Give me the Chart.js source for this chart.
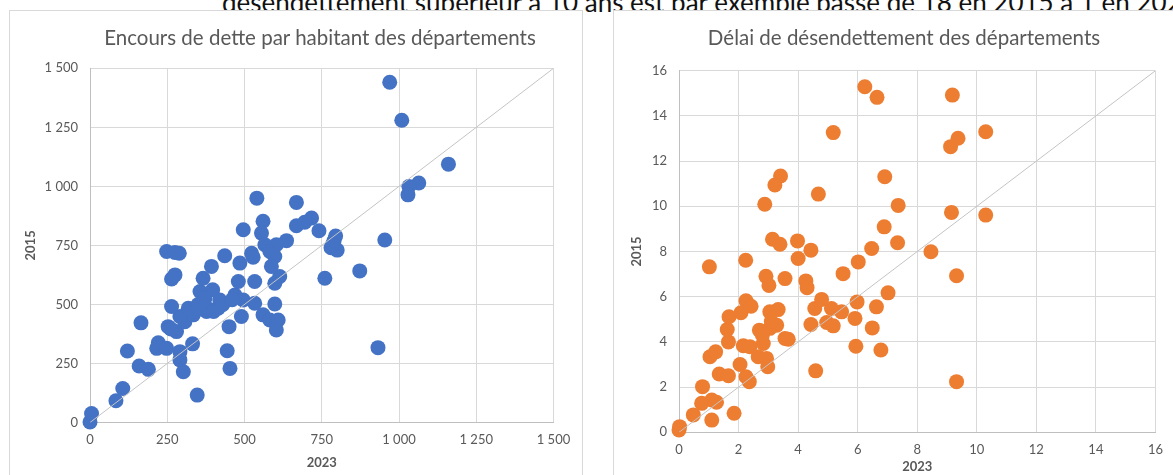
<!DOCTYPE html>
<html lang="fr">
<head>
<meta charset="UTF-8">
<title>Encours de dette et délai de désendettement des départements</title>
<script src="https://cdn.jsdelivr.net/npm/chart.js"></script>
<style>
    body {
        margin: 0;
        width: 1173px;
        height: 475px;
        overflow: hidden;
        position: relative;
        background: #fff;
        font-family: 'Lato', sans-serif;
    }
    .intro {
        position: absolute;
        left: 222px;
        top: -13px;
        font-size: 26px;
        line-height: 30px;
        color: #111;
        white-space: nowrap;
    }
    .card {
        position: absolute;
        top: 10px;
        height: 480px;
        border: 1px solid #d9d9d9;
        background: #fff;
    }
    .card h2 {
        position: absolute;
        top: 15px;
        margin: 0;
        font-size: 20.5px;
        line-height: 22px;
        font-weight: 400;
        color: #595959;
        white-space: nowrap;
        transform: translateX(-50%);
        z-index: 2;
    }
    .card canvas { position: absolute; left: 0; top: 0; }
</style>
</head>
<body>

<div class="intro">désendettement supérieur à 10 ans est par exemple passé de 18 en 2015 à 1 en 2023.</div>

<div class="card" style="left:9px; width:572px;">
    <h2 style="left:310px;">Encours de dette par habitant des départements</h2>
    <canvas id="debtChart" width="572" height="464"></canvas>
</div>

<div class="card" style="left:613px; width:600px;">
    <h2 style="left:290px;">Délai de désendettement des départements</h2>
    <canvas id="delayChart" width="559" height="464"></canvas>
</div>

<script>
    // encours de dette par habitant (EUR), 2023 en abscisse, 2015 en ordonnee
    const debt2023 = [0, 5, 84, 106, 121, 159, 189, 165, 216, 221, 248, 253, 280, 262,
        291, 291, 302, 332, 307, 291, 334, 264, 318, 366, 415, 377, 356, 397, 372, 420,
        469, 496, 533, 598, 264, 275, 366, 480, 533, 598, 614, 393, 485, 436, 523, 528,
        248, 275, 289, 540, 668, 560, 496, 555, 668, 717, 695, 741, 636, 603, 566, 582,
        598, 587, 490, 560, 582, 609, 603, 450, 444, 453, 347, 760, 873, 932, 954, 780,
        790, 795, 800, 785, 970, 1009, 1160, 1064, 1032, 1029, 340, 430, 385, 400, 460, 350];
    const debt2015 = [2, 38, 92, 144, 303, 239, 225, 422, 314, 338, 314, 406, 385, 396,
        300, 265, 215, 333, 427, 449, 456, 491, 484, 491, 484, 470, 555, 562, 526, 519,
        540, 519, 505, 502, 608, 625, 611, 597, 597, 590, 618, 661, 675, 706, 717, 700,
        724, 720, 717, 950, 932, 852, 816, 802, 833, 866, 848, 812, 770, 753, 753, 724,
        703, 661, 449, 456, 434, 434, 392, 406, 304, 229, 116, 611, 642, 317, 773, 740,
        770, 790, 730, 755, 1441, 1280, 1094, 1014, 999, 964, 470, 500, 480, 470, 520, 500];

    // delai de desendettement (annees)
    const delay2023 = [0, 0.02, 0.48, 1.10, 1.85, 0.76, 1.10, 1.26, 0.79, 1.35, 1.66, 2.05,
        2.25, 2.36, 1.04, 1.23, 1.66, 1.62, 1.68, 2.16, 2.38, 2.08, 2.25, 2.42, 2.70, 2.83,
        2.66, 2.94, 2.98, 3.05, 3.33, 3.28, 3.56, 3.05, 2.92, 3.02, 3.56, 3.14, 3.39, 3.98,
        4.00, 4.43, 4.26, 4.30, 2.88, 1.02, 2.24, 4.56, 4.79, 5.12, 5.46, 4.43, 4.96, 5.18,
        4.59, 5.51, 6.02, 6.47, 6.89, 7.36, 7.34, 7.02, 5.98, 6.63, 5.91, 6.49, 5.94, 6.78,
        6.24, 6.65, 5.18, 3.41, 3.22, 4.68, 6.91, 9.18, 10.30, 9.37, 9.12, 9.15, 10.30, 8.46,
        9.32, 9.32, 3.67, 3.10, 2.80];
    const delay2015 = [0.10, 0.25, 0.77, 0.54, 0.84, 1.28, 1.43, 1.33, 2.02, 2.58, 2.50, 3.00,
        2.46, 2.24, 3.34, 3.56, 4.00, 4.55, 5.11, 3.83, 3.79, 5.29, 5.82, 5.58, 4.52, 3.93,
        3.34, 3.27, 2.90, 5.33, 5.43, 4.74, 4.15, 4.60, 6.90, 6.50, 6.80, 8.54, 8.32, 8.47,
        7.69, 8.06, 6.70, 6.40, 10.09, 7.32, 7.61, 5.48, 5.88, 5.48, 5.33, 4.77, 4.86, 4.71,
        2.72, 7.02, 7.54, 8.13, 9.09, 10.04, 8.39, 6.17, 5.77, 5.55, 5.04, 4.62, 3.81, 3.64,
        15.29, 14.82, 13.26, 11.34, 10.94, 10.54, 11.31, 14.92, 13.30, 13.01, 12.64, 9.73, 9.61, 7.99,
        6.93, 2.24, 4.12, 4.90, 4.30];

    const debtTicks = ['0', '250', '500', '750', '1 000', '1 250', '1 500'];
    const delayTicks = ['0', '2', '4', '6', '8', '10', '12', '14', '16'];

    Chart.defaults.font.family = 'Lato';
    Chart.defaults.font.size = 13;
    Chart.defaults.color = '#595959';

    function scatterChart(id, xs, ys, color, ticks, step, box) {
        const max = (ticks.length - 1) * step;
        const axisTitle = (text, pad) => ({
            display: true, text: text, color: '#595959',
            font: { size: 13, weight: 'bold' }, padding: pad
        });
        const grid = { color: '#d9d9d9', drawTicks: false };
        const border = { color: '#bfbfbf' };
        return new Chart(document.getElementById(id), {
            type: 'scatter',
            data: {
                datasets: [
                    {
                        data: xs.map((x, i) => ({ x: x, y: ys[i] })),
                        backgroundColor: color,
                        borderWidth: 0,
                        pointRadius: 7.5,
                        clip: false,
                        order: 1
                    },
                    {
                        // diagonale 2015 = 2023
                        data: [{ x: 0, y: 0 }, { x: max, y: max }],
                        showLine: true,
                        borderColor: '#c4c4c4',
                        borderWidth: 1,
                        pointRadius: 0,
                        order: 0
                    }
                ]
            },
            options: {
                responsive: false,
                animation: false,
                layout: { padding: { left: box.padLeft, right: box.padRight, top: box.padTop, bottom: 0 } },
                plugins: { legend: { display: false }, tooltip: { enabled: false } },
                scales: {
                    x: {
                        min: 0, max: max,
                        grid: grid, border: border,
                        afterFit: s => { s.height = box.xHeight; },
                        ticks: { stepSize: step, padding: 10, callback: v => ticks[Math.round(v / step)] },
                        title: axisTitle('2023', { top: 0, bottom: box.xTitlePad })
                    },
                    y: {
                        min: 0, max: max,
                        grid: grid, border: border,
                        afterFit: s => { s.width = box.yWidth; },
                        ticks: { stepSize: step, padding: 12, callback: v => ticks[Math.round(v / step)] },
                        title: axisTitle('2015', { top: 4, bottom: 4 })
                    }
                }
            }
        });
    }

    window.onload = () => {
        scatterChart('debtChart', debt2023, debt2015, '#4472c4', debtTicks, 250,
            { padLeft: 9, padRight: 28.5, padTop: 57.3, yWidth: 71, xHeight: 52.5, xTitlePad: 4 });
        scatterChart('delayChart', delay2023, delay2015, '#ed7d31', delayTicks, 2,
            { padLeft: 11, padRight: 17.5, padTop: 59.7, yWidth: 54, xHeight: 42.7, xTitlePad: 0 });
    };
</script>
</body>
</html>
